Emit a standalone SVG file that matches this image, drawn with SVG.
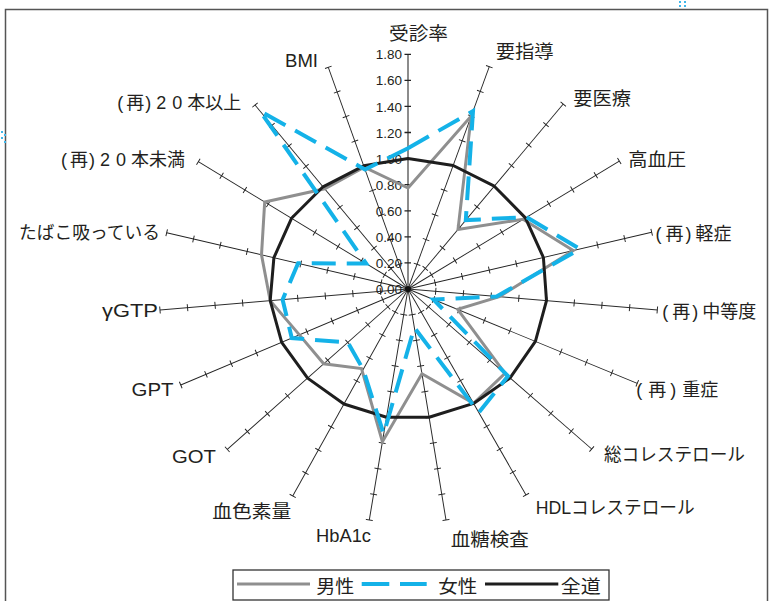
<svg xmlns="http://www.w3.org/2000/svg" xmlns:xlink="http://www.w3.org/1999/xlink" width="771" height="601" viewBox="0 0 771 601">
<style>
.lbl{font-family:"Liberation Sans","Noto Sans CJK JP",sans-serif;font-size:18px;fill:#231f20}
.val{font-family:"Liberation Sans",Arial,sans-serif;font-size:13.5px;fill:#231f20;text-anchor:end}
.ax{stroke:#222;stroke-width:0.9;fill:none}
.male{fill:none;stroke:#8f8f8f;stroke-width:3;stroke-linejoin:miter}
.female{fill:none;stroke:#14b2e8;stroke-width:4;stroke-dasharray:24 11;stroke-linejoin:miter}
.all{fill:none;stroke:#1e1e1e;stroke-width:3;stroke-linejoin:round}
</style>
<defs>
<g id="ax" class="ax">
<line x1="0" y1="0" x2="0" y2="-234"/>
<path d="M-3.5-26h7M-3.5-52h7M-3.5-78h7M-3.5-104h7M-3.5-130h7M-3.5-156h7M-3.5-182h7M-3.5-208h7M-3.5-234h7"/>
</g>
</defs>
<rect x="0" y="0" width="771" height="601" fill="#fff"/>
<path d="M5.5 605V9.5H767.5V605" fill="none" stroke="#555" stroke-width="1.5"/>
<g fill="#3fb6ea">
<rect x="679" y="1" width="2" height="2"/><rect x="684" y="1" width="2" height="2"/>
<rect x="679" y="5" width="2" height="2"/><rect x="684" y="5" width="2" height="2"/>
<rect x="1" y="131" width="2" height="2"/><rect x="4" y="134" width="2" height="2"/>
<rect x="1" y="137" width="2" height="2"/><rect x="4" y="141" width="2" height="2"/>
</g>
<g id="axes">
<use xlink:href="#ax" transform="translate(408 289) rotate(20.09) scale(1 1.0115)"/>
<use xlink:href="#ax" transform="translate(408 289) rotate(40.01) scale(1 1.032)"/>
<use xlink:href="#ax" transform="translate(408 289) rotate(58.80) scale(1 1.0556)"/>
<use xlink:href="#ax" transform="translate(408 289) rotate(76.90) scale(1 1.0692)"/>
<use xlink:href="#ax" transform="translate(408 289) rotate(94.81) scale(1 1.0692)"/>
<use xlink:href="#ax" transform="translate(408 289) rotate(112.36) scale(1 1.0594)"/>
<use xlink:href="#ax" transform="translate(408 289) rotate(131.05) scale(1 1.041)"/>
<use xlink:href="#ax" transform="translate(408 289) rotate(150.19) scale(1 1.0145)"/>
<use xlink:href="#ax" transform="translate(408 289) rotate(170.66) scale(1 1.0004)"/>
<use xlink:href="#ax" transform="translate(408 289) rotate(189.51) scale(1 1.0009)"/>
<use xlink:href="#ax" transform="translate(408 289) rotate(209.12) scale(1 1.0124)"/>
<use xlink:href="#ax" transform="translate(408 289) rotate(228.42) scale(1 1.0325)"/>
<use xlink:href="#ax" transform="translate(408 289) rotate(247.10) scale(1 1.0543)"/>
<use xlink:href="#ax" transform="translate(408 289) rotate(265.16) scale(1 1.0637)"/>
<use xlink:href="#ax" transform="translate(408 289) rotate(283.13) scale(1 1.059)"/>
<use xlink:href="#ax" transform="translate(408 289) rotate(301.26) scale(1 1.0483)"/>
<use xlink:href="#ax" transform="translate(408 289) rotate(320.25) scale(1 1.0226)"/>
<use xlink:href="#ax" transform="translate(408 289) rotate(340.23) scale(1 1.0068)"/>
<line x1="408" y1="289" x2="408" y2="54.3" stroke="#8c8c8c" stroke-width="2"/>
<path d="M404.5 262.9h6.5M404.5 236.8h6.5M404.5 210.8h6.5M404.5 184.7h6.5M404.5 158.6h6.5M404.5 132.5h6.5M404.5 106.4h6.5M404.5 80.4h6.5M404.5 54.3h6.5" stroke="#222" stroke-width="1.3"/>
<circle cx="408" cy="289" r="3" fill="#111"/>
</g>
<g id="values">
<text class="val" x="402" y="59.3">1.80</text>
<text class="val" x="402" y="85.4">1.60</text>
<text class="val" x="402" y="111.5">1.40</text>
<text class="val" x="402" y="137.6">1.20</text>
<text class="val" x="402" y="163.6">1.00</text>
<text class="val" x="402" y="189.7">0.80</text>
<text class="val" x="402" y="215.8">0.60</text>
<text class="val" x="402" y="241.9">0.40</text>
<text class="val" x="402" y="268">0.20</text>
<text class="val" x="402" y="294">0.00</text>
</g>
<g id="series">
<polygon class="male" points="408,188 471.2,116.1 458,229.4 523,219.3 573.2,250.6 499.4,296.7 457.7,309.4 505,373.4 473.6,403.4 421.9,373.7 382.4,441.7 361.5,368.5 323.7,363.8 299.4,334.9 270.2,300.7 261.5,254.9 264.7,202 324.7,188.8 364.2,167.1"/>
<polygon class="all" points="408,158.6 453.2,165.5 494.3,186.2 525.4,217.9 543.4,257.5 546.5,300.7 535.4,341.4 510.1,377.9 473.6,403.4 429.1,417.3 386.5,417.3 343.9,404 307.6,378.1 281.7,342.3 270.2,300.7 273.9,257.7 291.5,218.3 323,186.8 363.7,165.8"/>
<polygon class="female" points="408,148.2 473,111.2 465.8,220.1 526.6,217.2 580,249 496.6,296.5 433.5,299.5 508,376.1 478.8,412.6 414.3,327.5 383.7,434 363.2,369.5 347.8,342.4 291.8,338.1 282.6,299.6 298.1,263.3 366.1,263.5 260.1,111.1 365,169.5"/>
</g>
<g id="labels">
<text class="lbl" x="389" y="40" textLength="59" lengthAdjust="spacingAndGlyphs">受診率</text>
<text class="lbl" x="495.7" y="58" textLength="58" lengthAdjust="spacingAndGlyphs">要指導</text>
<text class="lbl" x="573.3" y="104.8" textLength="57.7" lengthAdjust="spacingAndGlyphs">要医療</text>
<text class="lbl" x="628.3" y="166" textLength="57.7" lengthAdjust="spacingAndGlyphs">高血圧</text>
<text class="lbl" x="655.5" y="239.5">(<tspan dx="4">再</tspan><tspan dx="2">)</tspan><tspan dx="4">軽症</tspan></text>
<text class="lbl" x="662.3" y="318">(<tspan dx="4">再</tspan><tspan dx="2">)</tspan><tspan dx="4">中等度</tspan></text>
<text class="lbl" x="636.3" y="395.5">(<tspan dx="6">再</tspan><tspan dx="4">)</tspan><tspan dx="6">重症</tspan></text>
<text class="lbl" x="604" y="460.5" textLength="141" lengthAdjust="spacingAndGlyphs">総コレステロール</text>
<text class="lbl" x="535.7" y="514" textLength="159" lengthAdjust="spacingAndGlyphs">HDLコレステロール</text>
<text class="lbl" x="450.7" y="545.5" textLength="78" lengthAdjust="spacingAndGlyphs">血糖検査</text>
<text class="lbl" x="316" y="541.5" textLength="55" lengthAdjust="spacingAndGlyphs">HbA1c</text>
<text class="lbl" x="212.3" y="518" textLength="79" lengthAdjust="spacingAndGlyphs">血色素量</text>
<text class="lbl" x="172" y="462.5" textLength="44" lengthAdjust="spacingAndGlyphs">GOT</text>
<text class="lbl" x="131.5" y="396" textLength="42" lengthAdjust="spacingAndGlyphs">GPT</text>
<text class="lbl" x="102" y="317" textLength="56" lengthAdjust="spacingAndGlyphs">γGTP</text>
<text class="lbl" x="19" y="239" textLength="141" lengthAdjust="spacingAndGlyphs">たばこ吸っている</text>
<text class="lbl" x="61" y="165.5">(<tspan dx="3">再</tspan><tspan dx="1">)</tspan><tspan dx="5">2</tspan><tspan dx="6">0</tspan><tspan dx="5">本未満</tspan></text>
<text class="lbl" x="117.3" y="109">(<tspan dx="3">再</tspan><tspan dx="1">)</tspan><tspan dx="5">2</tspan><tspan dx="6">0</tspan><tspan dx="5">本以上</tspan></text>
<text class="lbl" x="285" y="66.5" textLength="33" lengthAdjust="spacingAndGlyphs">BMI</text>
</g>
<g id="legend">
<rect x="233" y="570" width="376" height="30" fill="#fff" stroke="#333" stroke-width="1.3"/>
<line x1="237" y1="584" x2="310" y2="584" stroke="#8f8f8f" stroke-width="3"/>
<text class="lbl" x="316.3" y="593" textLength="38" lengthAdjust="spacingAndGlyphs">男性</text>
<line x1="361.7" y1="584" x2="426.7" y2="584" stroke="#14b2e8" stroke-width="4" stroke-dasharray="27.6 10.7"/>
<text class="lbl" x="438.3" y="593" textLength="39" lengthAdjust="spacingAndGlyphs">女性</text>
<line x1="485" y1="584" x2="558.3" y2="584" stroke="#1e1e1e" stroke-width="3"/>
<text class="lbl" x="560.7" y="593" textLength="40" lengthAdjust="spacingAndGlyphs">全道</text>
</g>
</svg>
